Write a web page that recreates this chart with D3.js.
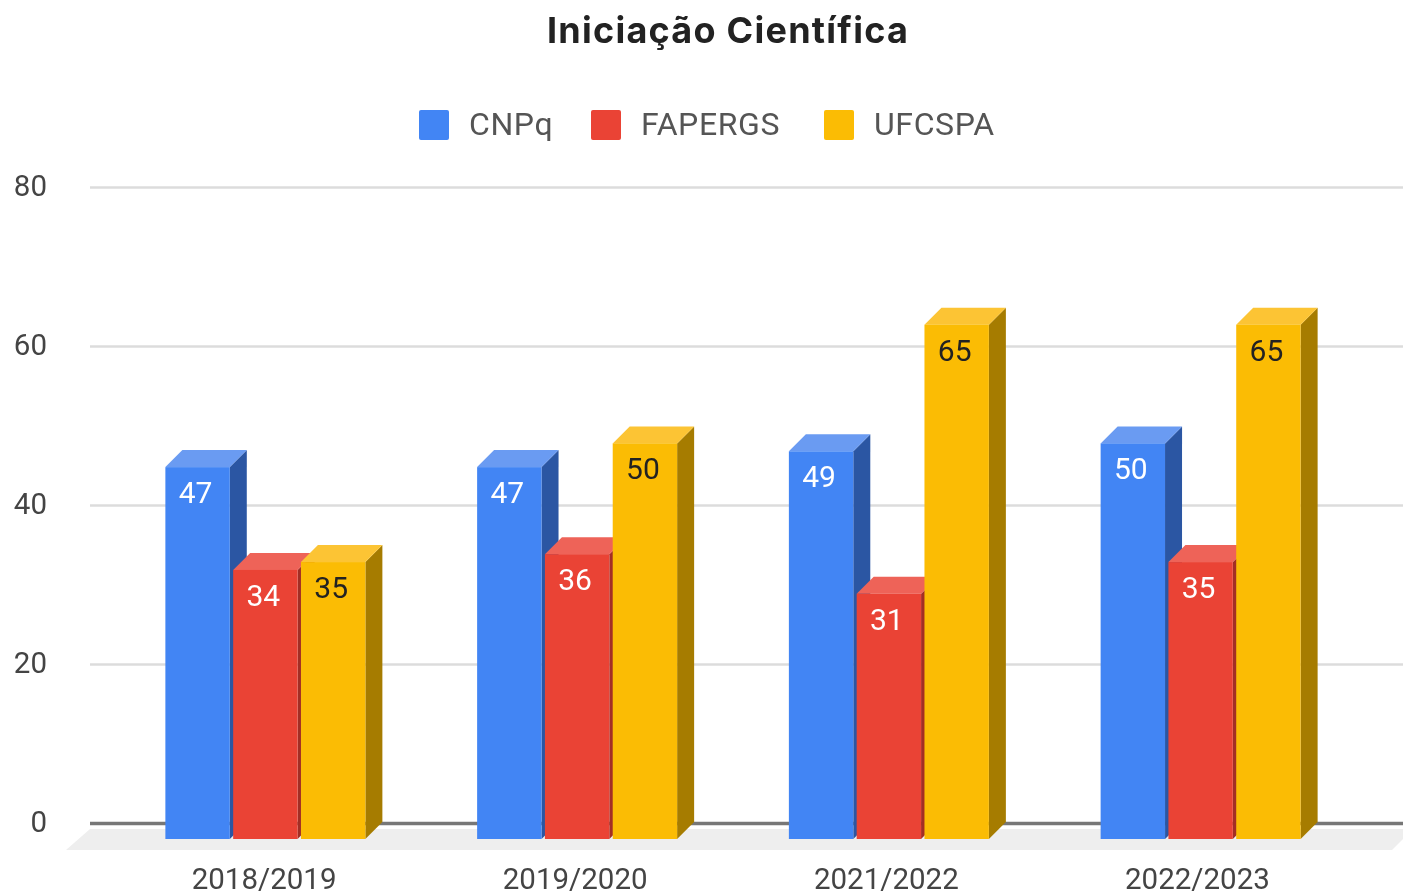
<!DOCTYPE html>
<html><head><meta charset="utf-8">
<script src="https://cdn.jsdelivr.net/npm/d3@7/dist/d3.min.js"></script>
<style>html,body{margin:0;padding:0;background:#fff;overflow:hidden}svg{display:block;filter:blur(.6px)}</style>
</head><body><svg id="c" width="1403" height="895"></svg>
<script>
const title = "Iniciação Científica";
const categories = ["2018/2019","2019/2020","2021/2022","2022/2023"];
const seriesNames = ["CNPq","FAPERGS","UFCSPA"];
const cnpq = [47,47,49,50];
const fapergs = [34,36,31,35];
const ufcspa = [35,50,65,65];
const yTicks = [0,20,40,60,80];
const front = ["#4285f4","#ea4335","#fbbc04"];
const side = ["#2b56a3","#a32e25","#a67c00"];
const topC = ["#6a9bf2","#ee6358","#fcc434"];
const labelC = ["#fff","#fff","#222"];
const legendX = [419,591,824];
const font = "Roboto, Arial, sans-serif";
const depth = 17;

const svg = d3.select("#c");
const y = d3.scaleLinear().domain([0,80]).range([823,187]);
const yFront = d3.scaleLinear().domain([0,80]).range([839,206]);
const x0 = d3.scaleBand().domain(categories).range([109.5,1356.5]);
const x1 = d3.scaleBand().domain(seriesNames).range([x0.bandwidth()/2-100,x0.bandwidth()/2+100]).paddingInner(0.05);
const xLab = d3.scaleBand().domain(categories).range([108.5,1353]);

svg.append("text").attr("x",728).attr("y",43).attr("text-anchor","middle")
  .attr("font-family","Inter, 'Noto Sans', sans-serif").attr("font-weight",700).attr("font-size",36)
  .attr("letter-spacing",1.25).attr("fill","#222").text(title);

const lg = svg.append("g").selectAll("g").data(seriesNames).join("g");
lg.append("rect").attr("x",(d,i)=>legendX[i]).attr("y",110).attr("width",30).attr("height",30).attr("rx",2)
  .attr("fill",(d,i)=>front[i]);
lg.append("text").attr("x",(d,i)=>legendX[i]+50).attr("y",135).attr("font-family",font)
  .attr("font-size",32).attr("letter-spacing",0.6).attr("fill","#555").text(d=>d);

// floor
svg.append("path").attr("d",d3.line()([[90,829],[1403,829],[1403,839],[1392,850],[66,850]])).attr("fill","#eeeeee");

// y axis + grid
const ax = svg.append("g").attr("transform","translate(90,0)")
  .call(d3.axisLeft(y).tickValues(yTicks).tickSize(0).tickPadding(43));
ax.select(".domain").remove();
ax.selectAll("text").attr("font-family",font).attr("font-size",29.5).attr("fill","#444").attr("dy","0.3em");
ax.selectAll(".tick").append("line").attr("x1",0).attr("x2",1313)
  .attr("stroke",d=>d===0?"#777":"#dcdcdc").attr("stroke-width",d=>d===0?3.5:2.5);

// bars
const values = [cnpq,fapergs,ufcspa];
categories.forEach((c,ci)=>{
  const g = svg.append("g").attr("transform",`translate(${x0(c)},0)`);
  const b = g.selectAll("g").data(seriesNames.map((n,si)=>({n,si,v:values[si][ci]}))).join("g");
  const w = x1.bandwidth(), base = yFront(0);
  b.append("path").attr("fill",d=>side[d.si]).attr("d",d=>{
    const l=x1(d.n)+w, t=yFront(d.v);
    return d3.line()([[l,t],[l+depth,t-depth],[l+depth,base-depth],[l,base]])+"Z";});
  b.append("path").attr("fill",d=>topC[d.si]).attr("d",d=>{
    const l=x1(d.n), t=yFront(d.v);
    return d3.line()([[l,t],[l+depth,t-depth],[l+w+depth,t-depth],[l+w,t]])+"Z";});
  b.append("rect").attr("fill",d=>front[d.si]).attr("x",d=>x1(d.n)).attr("y",d=>yFront(d.v))
    .attr("width",w).attr("height",d=>base-yFront(d.v));
  b.append("text").attr("x",d=>x1(d.n)+w/2-2).attr("y",d=>yFront(d.v)+36).attr("text-anchor","middle")
    .attr("font-family",font).attr("font-size",30).attr("fill",d=>labelC[d.si]).text(d=>d.v);
});

// x labels
const xa = svg.append("g").attr("transform","translate(0,889)")
  .call(d3.axisBottom(xLab).tickSize(0).tickPadding(0));
xa.select(".domain").remove();
xa.selectAll("text").attr("font-family",font).attr("font-size",29.5).attr("fill","#444").attr("dy","0");
</script></body></html>
